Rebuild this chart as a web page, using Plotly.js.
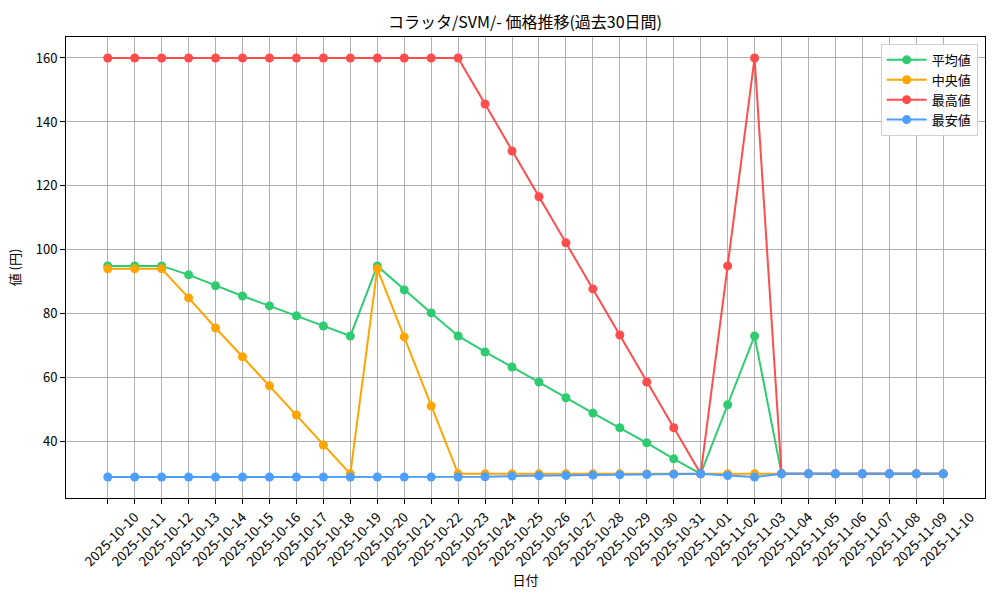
<!DOCTYPE html>
<html>
<head>
<meta charset="utf-8">
<script src="https://cdn.plot.ly/plotly-3.0.1.min.js"></script>
<style>html,body{margin:0;padding:0;background:#fff;}#chart{width:1000px;height:600px;}</style>
</head>
<body>
<div id="chart"></div>
<script>
const dates = ["2025-10-10","2025-10-11","2025-10-12","2025-10-13","2025-10-14","2025-10-15","2025-10-16","2025-10-17","2025-10-18","2025-10-19","2025-10-20","2025-10-21","2025-10-22","2025-10-23","2025-10-24","2025-10-25","2025-10-26","2025-10-27","2025-10-28","2025-10-29","2025-10-30","2025-10-31","2025-11-01","2025-11-02","2025-11-03","2025-11-04","2025-11-05","2025-11-06","2025-11-07","2025-11-08","2025-11-09","2025-11-10"];
const avgValues = [95,95,95,92.2,88.8,85.6,82.5,79.4,76.2,73.1,95,87.5,80.3,73.1,68.1,63.4,58.7,53.8,49,44.4,39.7,34.7,30,51.6,73.1,30,30,30,30,30,30,30];
const medianValues = [94.1,94.1,94.1,85,75.6,66.6,57.5,48.4,39,30,94.1,72.8,51.2,30,30,30,30,30,30,30,30,30,30,30,30,30,30,30,30,30,30,30];
const maxValues = [160,160,160,160,160,160,160,160,160,160,160,160,160,160,145.6,130.9,116.6,102.2,87.8,73.4,58.7,44.4,30,95,160,30,30,30,30,30,30,30];
const minValues = [29,29,29,29,29,29,29,29,29,29,29,29,29,29,29.1,29.3,29.4,29.5,29.6,29.7,29.8,29.9,30,29.5,29,30,30,30,30,30,30,30];
const seriesNames = ["平均値","中央値","最高値","最安値"];
const seriesColors = ["#2ecc71","#ffa500","#ff4d4d","#4d9fff"];
const seriesData = [avgValues, medianValues, maxValues, minValues];

const idx = dates.map((d,i)=>i);
const traces = seriesData.map((vals,k)=>({
  x: idx, y: vals, name: seriesNames[k], type: 'scatter', mode: 'lines+markers',
  line: {color: seriesColors[k], width: 2},
  marker: {color: seriesColors[k], size: 9}
}));

const font = "'Noto Sans CJK JP', 'DejaVu Sans', sans-serif";
const layout = {
  width: 1000, height: 600,
  margin: {l: 65.5, r: 15, t: 37.3, b: 101.7},
  paper_bgcolor: '#fff', plot_bgcolor: '#fff',
  font: {family: font, size: 13, color: '#000'},
  title: {text: 'コラッタ/SVM/- 価格推移(過去30日間)', x: 0.525, xanchor: 'center', y: 0.963, yanchor: 'middle', font: {size: 16, color: '#000'}},
  xaxis: {
    range: [-1.55, 32.55], tickmode: 'array', tickvals: idx, ticktext: dates,
    tickangle: -45, ticklabelshift: 27, ticks: 'outside', ticklen: 5, tickcolor: '#000',
    showgrid: true, gridcolor: '#b0b0b0', gridwidth: 1,
    showline: true, linecolor: '#000', linewidth: 1, mirror: true, zeroline: false,
    tickfont: {size: 13.5},
    title: {text: '日付', font: {size: 13}, standoff: 6}
  },
  yaxis: {
    range: [22.45, 166.55], tickvals: [40,60,80,100,120,140,160],
    ticks: 'outside', ticklen: 5, tickcolor: '#000',
    showgrid: true, gridcolor: '#b0b0b0', gridwidth: 1,
    showline: true, linecolor: '#000', linewidth: 1, mirror: true, zeroline: false,
    tickfont: {size: 13},
    title: {text: '値 (円)', font: {size: 13}, standoff: 12}
  },
  legend: {
    x: 0.992, xanchor: 'right', y: 0.985, yanchor: 'top',
    bgcolor: 'rgba(255,255,255,0.85)', bordercolor: '#d0d0d0', borderwidth: 1,
    font: {size: 13}, itemwidth: 40, tracegroupgap: 0
  },
  showlegend: true
};
Plotly.newPlot('chart', traces, layout, {displayModeBar: false, staticPlot: true});
</script>
</body>
</html>
